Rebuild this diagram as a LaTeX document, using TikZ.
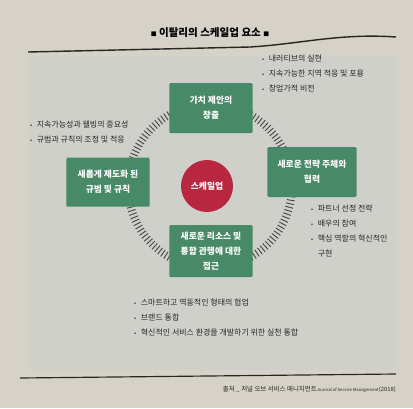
\documentclass[tikz,border=0pt]{standalone}
\usepackage{fontspec}
\setmainfont{Noto Sans CJK KR}
\definecolor{pagebg}{RGB}{214,210,199}
\definecolor{panelbg}{RGB}{208,208,203}
\definecolor{boxgreen}{RGB}{72,138,104}
\definecolor{corered}{RGB}{184,38,64}
\definecolor{inktext}{RGB}{40,38,36}
\newcommand{\bul}{{\fontsize{5}{5}\selectfont •}\hspace{4pt}}
\begin{document}
\begin{tikzpicture}[x=0.03cm,y=-0.03cm,
	fact/.style={fill=boxgreen,text=white,align=center,rounded corners=1pt,
		minimum width=2.5cm,minimum height=1.5cm,inner sep=2pt,
		font=\fontsize{7.5}{13}\selectfont\bfseries},
	items/.style={anchor=north west,align=left,text=inktext,inner sep=0pt,
		font=\fontsize{6.8}{12.8}\selectfont}]
		\useasboundingbox (0,0) rectangle (413,408);
		\fill[pagebg] (0,0) rectangle (413,408);
		\fill[panelbg] (28,56) rectangle (396,370);
		% title and rules
		\node (title) at (210,33) {\fontsize{9}{10}\selectfont\bfseries{\fontsize{5}{5}\selectfont■}\ 이탈리의 스케일업 요소\ {\fontsize{5}{5}\selectfont■}};
		\draw[line width=1.2pt,inktext] (28,52) -- (250,47) .. controls (300,44) and (340,33) .. (396,37);
		\draw[line width=1pt,inktext] (20,378) -- (396,374);
		\node[anchor=east,inner sep=0pt,text=inktext] (source) at (396,389) {\fontsize{5.5}{6}\selectfont 출처 \_ 저널 오브 서비스 매니지먼트{\fontsize{3.6}{4}\selectfont Journal of Service Management}{\fontsize{5}{6}\selectfont(2018)}};
		% hatched ring
		\foreach \a in {0,2.5,...,357.5}
			\draw[gray!55!black,line width=0.8pt] (210,186) ++(\a:78) -- ++(\a:8);
		% center and factors
		\node[circle,fill=corered,minimum size=1.56cm,text=white,font=\fontsize{7.5}{9}\selectfont\bfseries] (core) at (207,186) {스케일업};
		\node[fact] (value) at (211,108) {가치 제안의\\창출};
		\node[fact,minimum height=1.47cm] (norms) at (108,182) {새롭게 제도화 된\\규범 및 규칙};
		\node[fact,minimum width=2.67cm] (actors) at (312,172) {새로운 전략 주체와\\협력};
		\node[fact,minimum height=1.56cm] (access) at (211,251) {새로운 리소스 및\\통합 관행에 대한\\접근};
		% bullet lists
		\node[items] (valueitems) at (262,55) {\bul 내러티브의 실현\\\bul 지속가능한 지역 적응 및 포용\\\bul 창업가적 비전};
		\node[items] (normitems) at (30,121) {\bul 지속가능성과 웰빙의 중요성\\\bul 규범과 규칙의 조정 및 적응};
		\node[items] (actoritems) at (311,205) {\bul 파트너 선정 전략\\\bul 배우의 참여\\\bul 핵심 역할의 혁신적인\\\phantom{\bul}구현};
		\node[items] (accessitems) at (134,299) {\bul 스마트하고 역동적인 형태의 협업\\\bul 브랜드 통합\\\bul 혁신적인 서비스 환경을 개발하기 위한 실천 통합};
\end{tikzpicture}
\end{document}
